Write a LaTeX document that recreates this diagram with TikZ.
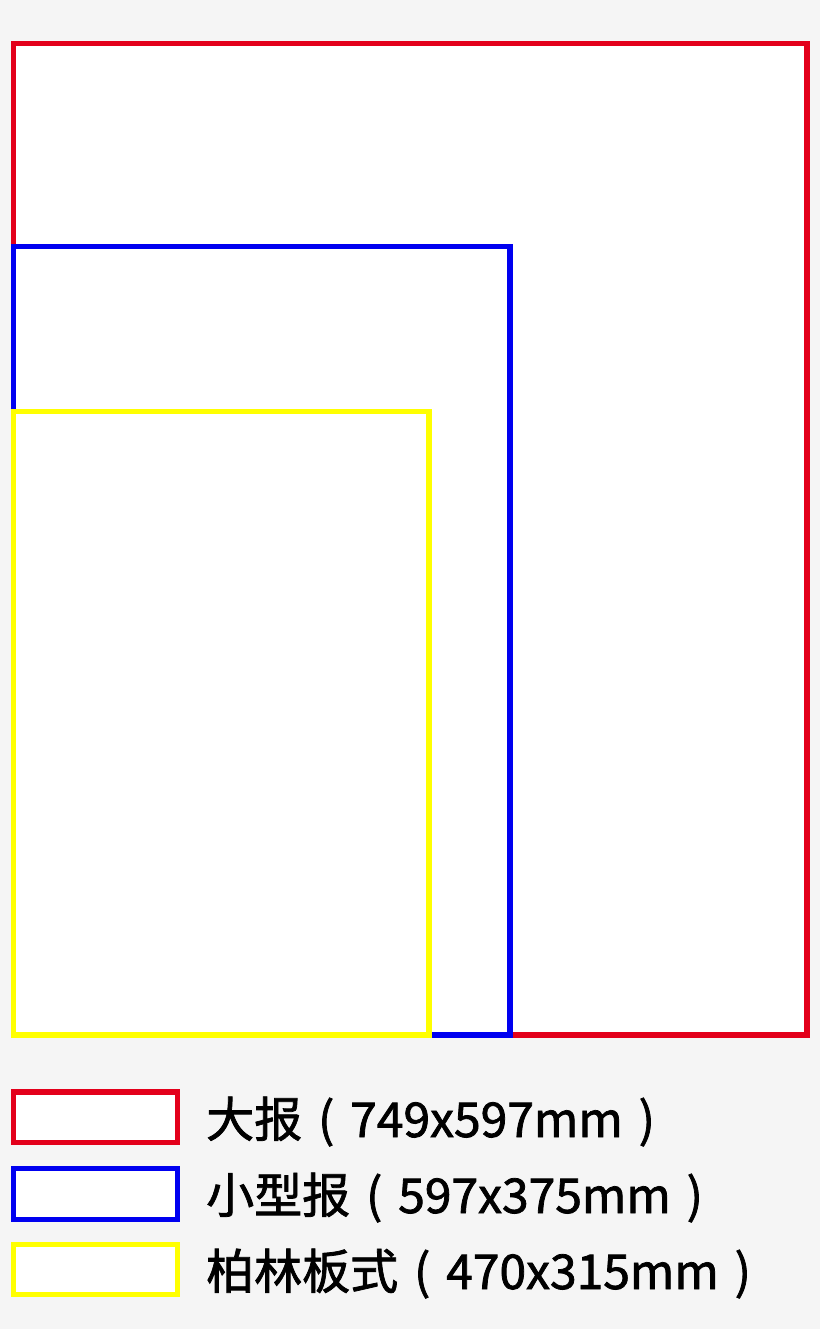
\documentclass[tikz,border=0pt]{standalone}
\usepackage{fontspec}
\newfontfamily\cjk[FakeBold=1.6]{Noto Sans CJK SC}
\definecolor{bg}{HTML}{F5F5F5}
\definecolor{cred}{HTML}{E3001B}
\definecolor{cblue}{HTML}{0000F0}
\definecolor{cyel}{HTML}{FFFF00}
\newcommand{\lp}{\makebox[1em][c]{(}}
\newcommand{\rp}{\makebox[1em][c]{)}}
\tikzset{
  frame/.style={line width=5.5pt, fill=white, line join=miter},
  label/.style={anchor=base west, inner sep=0pt, font=\cjk\fontsize{48}{48}\selectfont}
}
\begin{document}
\begin{tikzpicture}[x=1pt,y=-1pt]
\fill[bg] (0,0) rectangle (820,1329);
\useasboundingbox (0,0) rectangle (820,1329);
% main frames
\draw[frame, draw=cred] (13.3,43.3) rectangle (807,1035);
\draw[frame, draw=cblue] (13.3,246.7) rectangle (510,1035);
\draw[frame, draw=cyel] (13.3,411.7) rectangle (429,1035);
% legend
\draw[frame, draw=cred] (13.3,1092) rectangle (177.3,1142.7);
\draw[frame, draw=cblue] (13.3,1168.7) rectangle (177.3,1219.3);
\draw[frame, draw=cyel] (13.3,1244.7) rectangle (177.3,1294.5);
\node[label] (l1) at (206,1137) {大报\lp749x597mm\rp};
\node[label] (l2) at (206,1213) {小型报\lp597x375mm\rp};
\node[label] (l3) at (206,1289) {柏林板式\lp470x315mm\rp};
\end{tikzpicture}
\end{document}
